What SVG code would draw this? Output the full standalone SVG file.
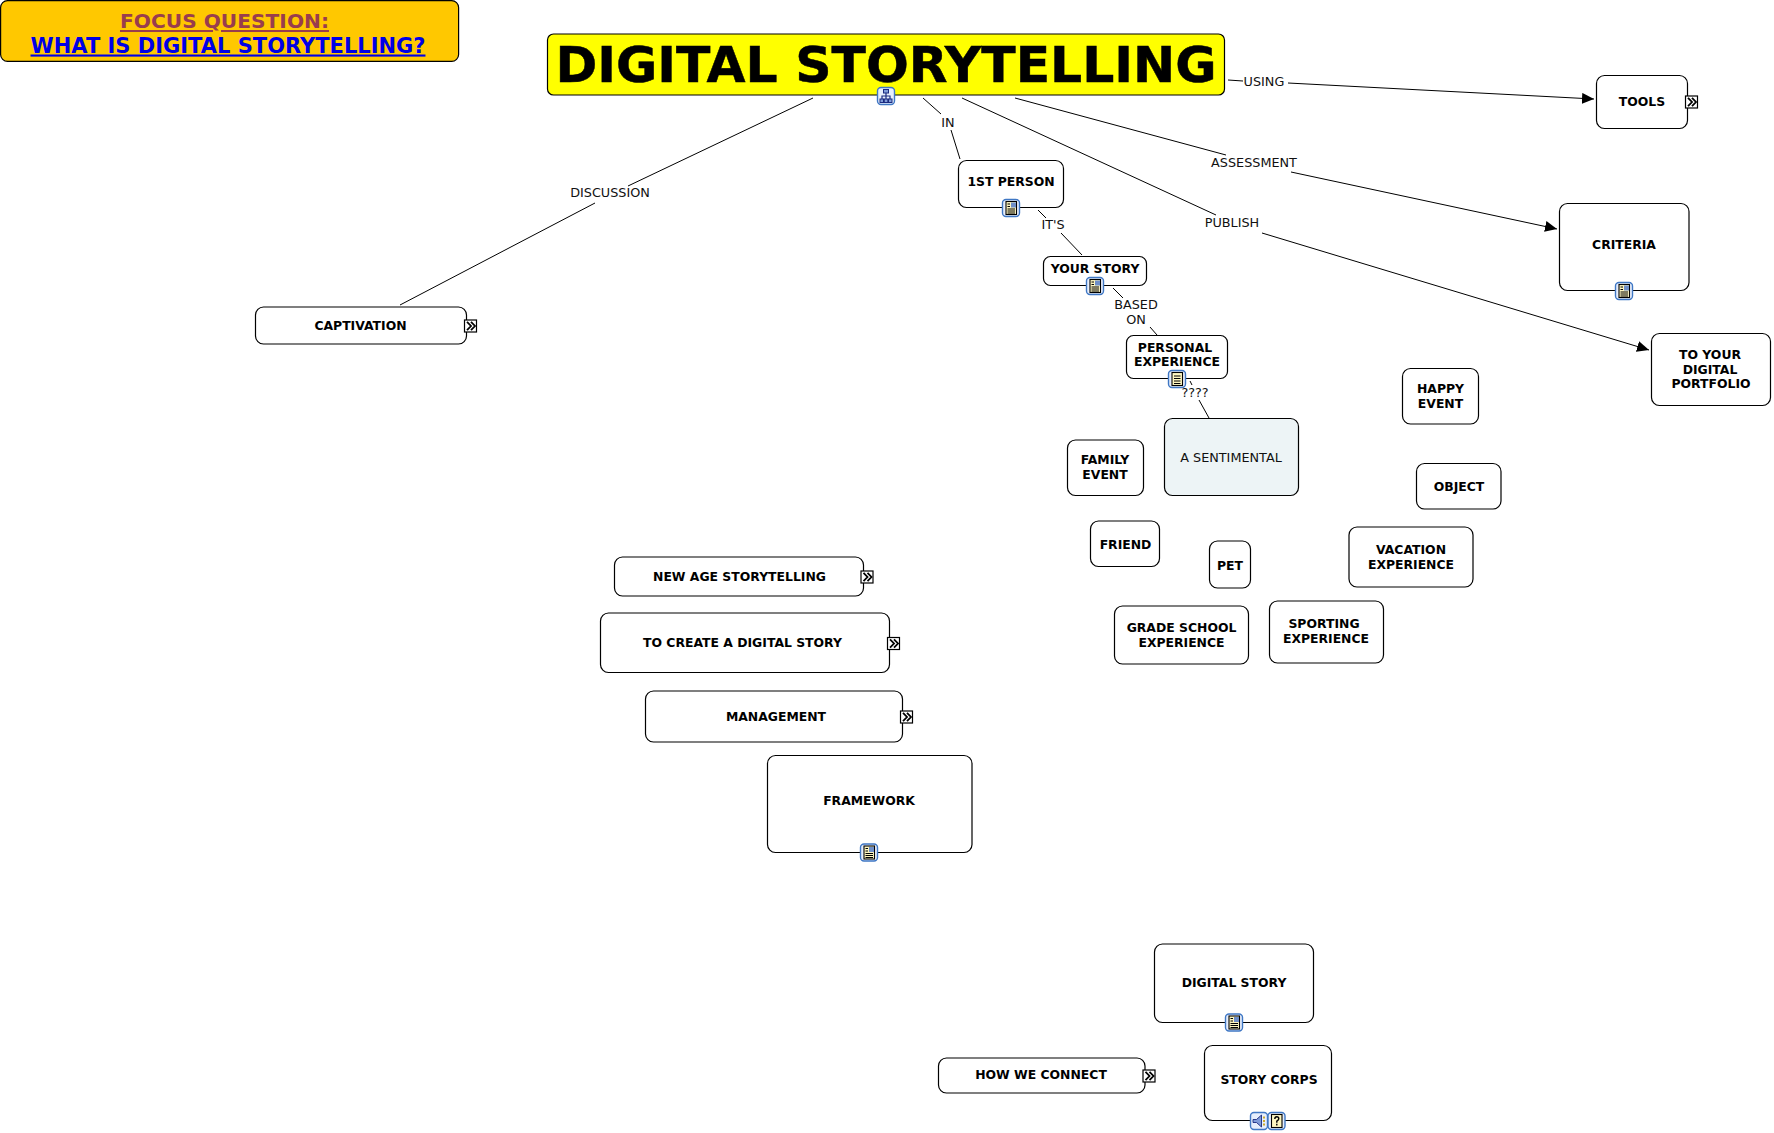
<svg xmlns="http://www.w3.org/2000/svg" width="1774" height="1133" viewBox="0 0 1774 1133">
<style>
text{font-family:"DejaVu Sans",Verdana,sans-serif;text-anchor:middle}
.n{fill:#fff;stroke:#000;stroke-width:1.2}
.t{font-size:12.4px;font-weight:bold;fill:#000}
.l{font-size:12.8px;fill:#111}
.c{fill:none;stroke:#000;stroke-width:1}
</style>
<defs>
<marker id="a" markerUnits="userSpaceOnUse" markerWidth="13" markerHeight="12" refX="12" refY="5.5" orient="auto"><path d="M0,0L12,5.5L0,11z" fill="#000"/></marker>
<g id="more"><rect x="0" y="0" width="12" height="12" fill="#fff" stroke="#000" stroke-width="1.2"/><path d="M2.500,1.800L6.500,6L2.500,10.200M6.500,1.800L10.500,6L6.500,10.200" fill="none" stroke="#000" stroke-width="1.800"/></g>
<g id="bg"><rect x="0" y="0" width="17" height="17" rx="3.500" fill="#e6eefc" stroke="#3f77c4" stroke-width="1.400"/></g>
<g id="doc"><use href="#bg"/><rect x="3.500" y="2" width="10.500" height="13" fill="#fdf6c0" stroke="#000" stroke-width="1.100"/><path d="M5.500,5.500h6.500M5.500,8h6.500M5.500,10.500h6.500M5.500,13h6.500" stroke="#000" stroke-width="1"/></g>
<g id="img"><use href="#bg"/><rect x="3.500" y="2" width="10.500" height="13" fill="#fdf6c0" stroke="#000" stroke-width="1.100"/><rect x="8.500" y="3" width="5" height="5" fill="#6f8fc8"/><path d="M5,4.500h2.500M5,7h2.500M5,9.500h7.500M5,11.500h7.500M5,13.500h7.500" stroke="#000" stroke-width="1"/></g>
<g id="map"><use href="#bg"/><path d="M8.500,5V8M4.500,12V8.500H12.500V12M8.500,8.500V12" fill="none" stroke="#1a2a80" stroke-width="1.200"/><rect x="6" y="2" width="5" height="3.500" fill="#7f9bd8" stroke="#1a2a80" stroke-width="1"/><rect x="2.500" y="11.500" width="3.500" height="3.500" fill="#7f9bd8" stroke="#1a2a80" stroke-width="1"/><rect x="6.800" y="11.500" width="3.500" height="3.500" fill="#7f9bd8" stroke="#1a2a80" stroke-width="1"/><rect x="11" y="11.500" width="3.500" height="3.500" fill="#7f9bd8" stroke="#1a2a80" stroke-width="1"/></g>
<g id="snd"><use href="#bg"/><path d="M2.500,7H6L11,2.500V14.500L6,10H2.500z" fill="#7f9bd8" stroke="#1a2a80" stroke-width="0.900"/><path d="M13.500,4v2M13.500,7.500v2M13.500,11v2" stroke="#c9a21a" stroke-width="1.800"/></g>
<g id="qst"><use href="#bg"/><rect x="3.500" y="2" width="10.500" height="13" fill="#fdf6c0" stroke="#000" stroke-width="1.100"/><path d="M6.800,6.500Q6.800,4.300 8.800,4.300Q10.800,4.300 10.800,6.300Q10.800,7.500 8.800,8.700V10.200M8.800,11.300V13" fill="none" stroke="#000" stroke-width="1.400"/></g>
</defs>

<g id="connectors">
<path class="c" d="M813,98L628,186M595,203L400,305"/>
<path class="c" d="M923,98L941,114M951,130L960,159"/>
<path class="c" d="M1038,210L1046,218M1061,233L1082,255"/>
<path class="c" d="M1113,288L1123,298M1150,327L1157,335"/>
<path class="c" d="M1190,381L1192,385M1199,400L1209,418"/>
<path class="c" d="M1228,80L1243,81"/>
<path class="c" d="M1288,83L1594,99" marker-end="url(#a)"/>
<path class="c" d="M1015,98L1226,155"/>
<path class="c" d="M1291,172L1557,229" marker-end="url(#a)"/>
<path class="c" d="M962,98L1216,215"/>
<path class="c" d="M1262,233L1649,350" marker-end="url(#a)"/>
<text class="l" x="610" y="197">DISCUSSION</text>
<text class="l" x="948" y="127">IN</text>
<text class="l" x="1053" y="229">IT'S</text>
<text class="l" x="1136" y="309">BASED</text>
<text class="l" x="1136" y="323.500">ON</text>
<text class="l" x="1195" y="397">????</text>
<text class="l" x="1264" y="86">USING</text>
<text class="l" x="1254" y="167">ASSESSMENT</text>
<text class="l" x="1232" y="227">PUBLISH</text>
</g>

<g id="focus"><rect x="0.600" y="0.600" width="458" height="60.800" rx="7" fill="#ffc800" stroke="#000" stroke-width="1.200"/>
<text x="224.500" y="28" font-size="20.200" font-weight="bold" fill="#993d4d" text-decoration="underline">FOCUS QUESTION:</text>
<text x="228" y="52.500" font-size="21" font-weight="bold" fill="#0000e6" text-decoration="underline">WHAT IS DIGITAL STORYTELLING?</text></g>
<g id="title"><rect x="547.500" y="34" width="677" height="61" rx="6" fill="#ff0" stroke="#000" stroke-width="1.200"/><text x="886" y="81.500" font-size="50.400" font-weight="bold" fill="#000" stroke="#000" stroke-width="0.500">DIGITAL STORYTELLING</text><use href="#map" x="877.500" y="87.500"/></g>
<g id="tools"><rect class="n" x="1596.500" y="75.500" width="91" height="53" rx="8"/><text class="t" x="1642" y="106">TOOLS</text><use href="#more" x="1685.500" y="96"/></g>
<g id="criteria"><rect class="n" x="1559.500" y="203.500" width="129.500" height="87" rx="8"/><text class="t" x="1624" y="249">CRITERIA</text><use href="#img" x="1615.500" y="282.500"/></g>
<g id="portfolio"><rect class="n" x="1651.500" y="333.500" width="119" height="72" rx="8"/><text class="t" x="1710" y="359">TO YOUR</text><text class="t" x="1710" y="373.500">DIGITAL</text><text class="t" x="1711" y="388">PORTFOLIO</text></g>
<g id="first-person"><rect class="n" x="958.500" y="160.500" width="105" height="47" rx="8"/><text class="t" x="1011" y="186">1ST PERSON</text><use href="#img" x="1002.500" y="199.500"/></g>
<g id="your-story"><rect class="n" x="1043.500" y="256.500" width="103" height="29" rx="7"/><text class="t" x="1095" y="273">YOUR STORY</text><use href="#img" x="1086.500" y="277.500"/></g>
<g id="personal"><rect class="n" x="1126.500" y="335.500" width="101" height="43" rx="7"/><text class="t" x="1175" y="352">PERSONAL</text><text class="t" x="1177" y="366">EXPERIENCE</text><use href="#doc" x="1168.500" y="370.500"/></g>
<g id="sentimental"><rect class="n" style="fill:#edf4f6" x="1164.500" y="418.500" width="134" height="77" rx="8"/><text class="l" x="1231" y="462">A SENTIMENTAL</text></g>
<g id="happy"><rect class="n" x="1402.500" y="368.500" width="76" height="55.500" rx="8"/><text class="t" x="1440.500" y="393">HAPPY</text><text class="t" x="1440.500" y="408">EVENT</text></g>
<g id="family"><rect class="n" x="1067.500" y="440" width="76" height="55.500" rx="8"/><text class="t" x="1105" y="464">FAMILY</text><text class="t" x="1105" y="479">EVENT</text></g>
<g id="object"><rect class="n" x="1416.500" y="463.500" width="84.500" height="45.500" rx="8"/><text class="t" x="1459" y="491">OBJECT</text></g>
<g id="friend"><rect class="n" x="1090.500" y="521" width="69" height="45.500" rx="8"/><text class="t" x="1125.500" y="548.500">FRIEND</text></g>
<g id="pet"><rect class="n" x="1209.500" y="541" width="41" height="47" rx="8"/><text class="t" x="1230" y="570">PET</text></g>
<g id="vacation"><rect class="n" x="1349" y="527" width="124" height="60" rx="8"/><text class="t" x="1411" y="554">VACATION</text><text class="t" x="1411" y="568.500">EXPERIENCE</text></g>
<g id="grade"><rect class="n" x="1114.500" y="606" width="134" height="58" rx="8"/><text class="t" x="1181.500" y="632">GRADE SCHOOL</text><text class="t" x="1181.500" y="646.500">EXPERIENCE</text></g>
<g id="sporting"><rect class="n" x="1269.500" y="601" width="114" height="62" rx="8"/><text class="t" x="1324" y="628">SPORTING</text><text class="t" x="1326" y="643">EXPERIENCE</text></g>
<g id="new-age"><rect class="n" x="614.500" y="557" width="249" height="39" rx="8"/><text class="t" x="739.500" y="581">NEW AGE STORYTELLING</text><use href="#more" x="861" y="571"/></g>
<g id="create"><rect class="n" x="600.500" y="613" width="289" height="59.500" rx="8"/><text class="t" x="742.500" y="646.500">TO CREATE A DIGITAL STORY</text><use href="#more" x="887.500" y="637.500"/></g>
<g id="management"><rect class="n" x="645.500" y="691" width="257" height="51" rx="8"/><text class="t" x="776" y="720.500">MANAGEMENT</text><use href="#more" x="900.500" y="711"/></g>
<g id="framework"><rect class="n" x="767.500" y="755.500" width="204.500" height="97" rx="8"/><text class="t" x="869" y="805">FRAMEWORK</text><use href="#img" x="860.500" y="844"/></g>
<g id="digital-story"><rect class="n" x="1154.500" y="944" width="159" height="78.500" rx="8"/><text class="t" x="1234" y="987">DIGITAL STORY</text><use href="#img" x="1225.500" y="1014"/></g>
<g id="story-corps"><rect class="n" x="1204.500" y="1045.500" width="127" height="75" rx="8"/><text class="t" x="1269" y="1084">STORY CORPS</text><use href="#snd" x="1250.500" y="1112.500"/><use href="#qst" x="1268" y="1112.500"/></g>
<g id="connect"><rect class="n" x="938.500" y="1058" width="206.500" height="35" rx="8"/><text class="t" x="1041" y="1079">HOW WE CONNECT</text><use href="#more" x="1143" y="1070"/></g>
<g id="captivation"><rect class="n" x="255.500" y="307" width="211" height="37" rx="8"/><text class="t" x="360.500" y="330">CAPTIVATION</text><use href="#more" x="464.500" y="320"/></g>
</svg>
